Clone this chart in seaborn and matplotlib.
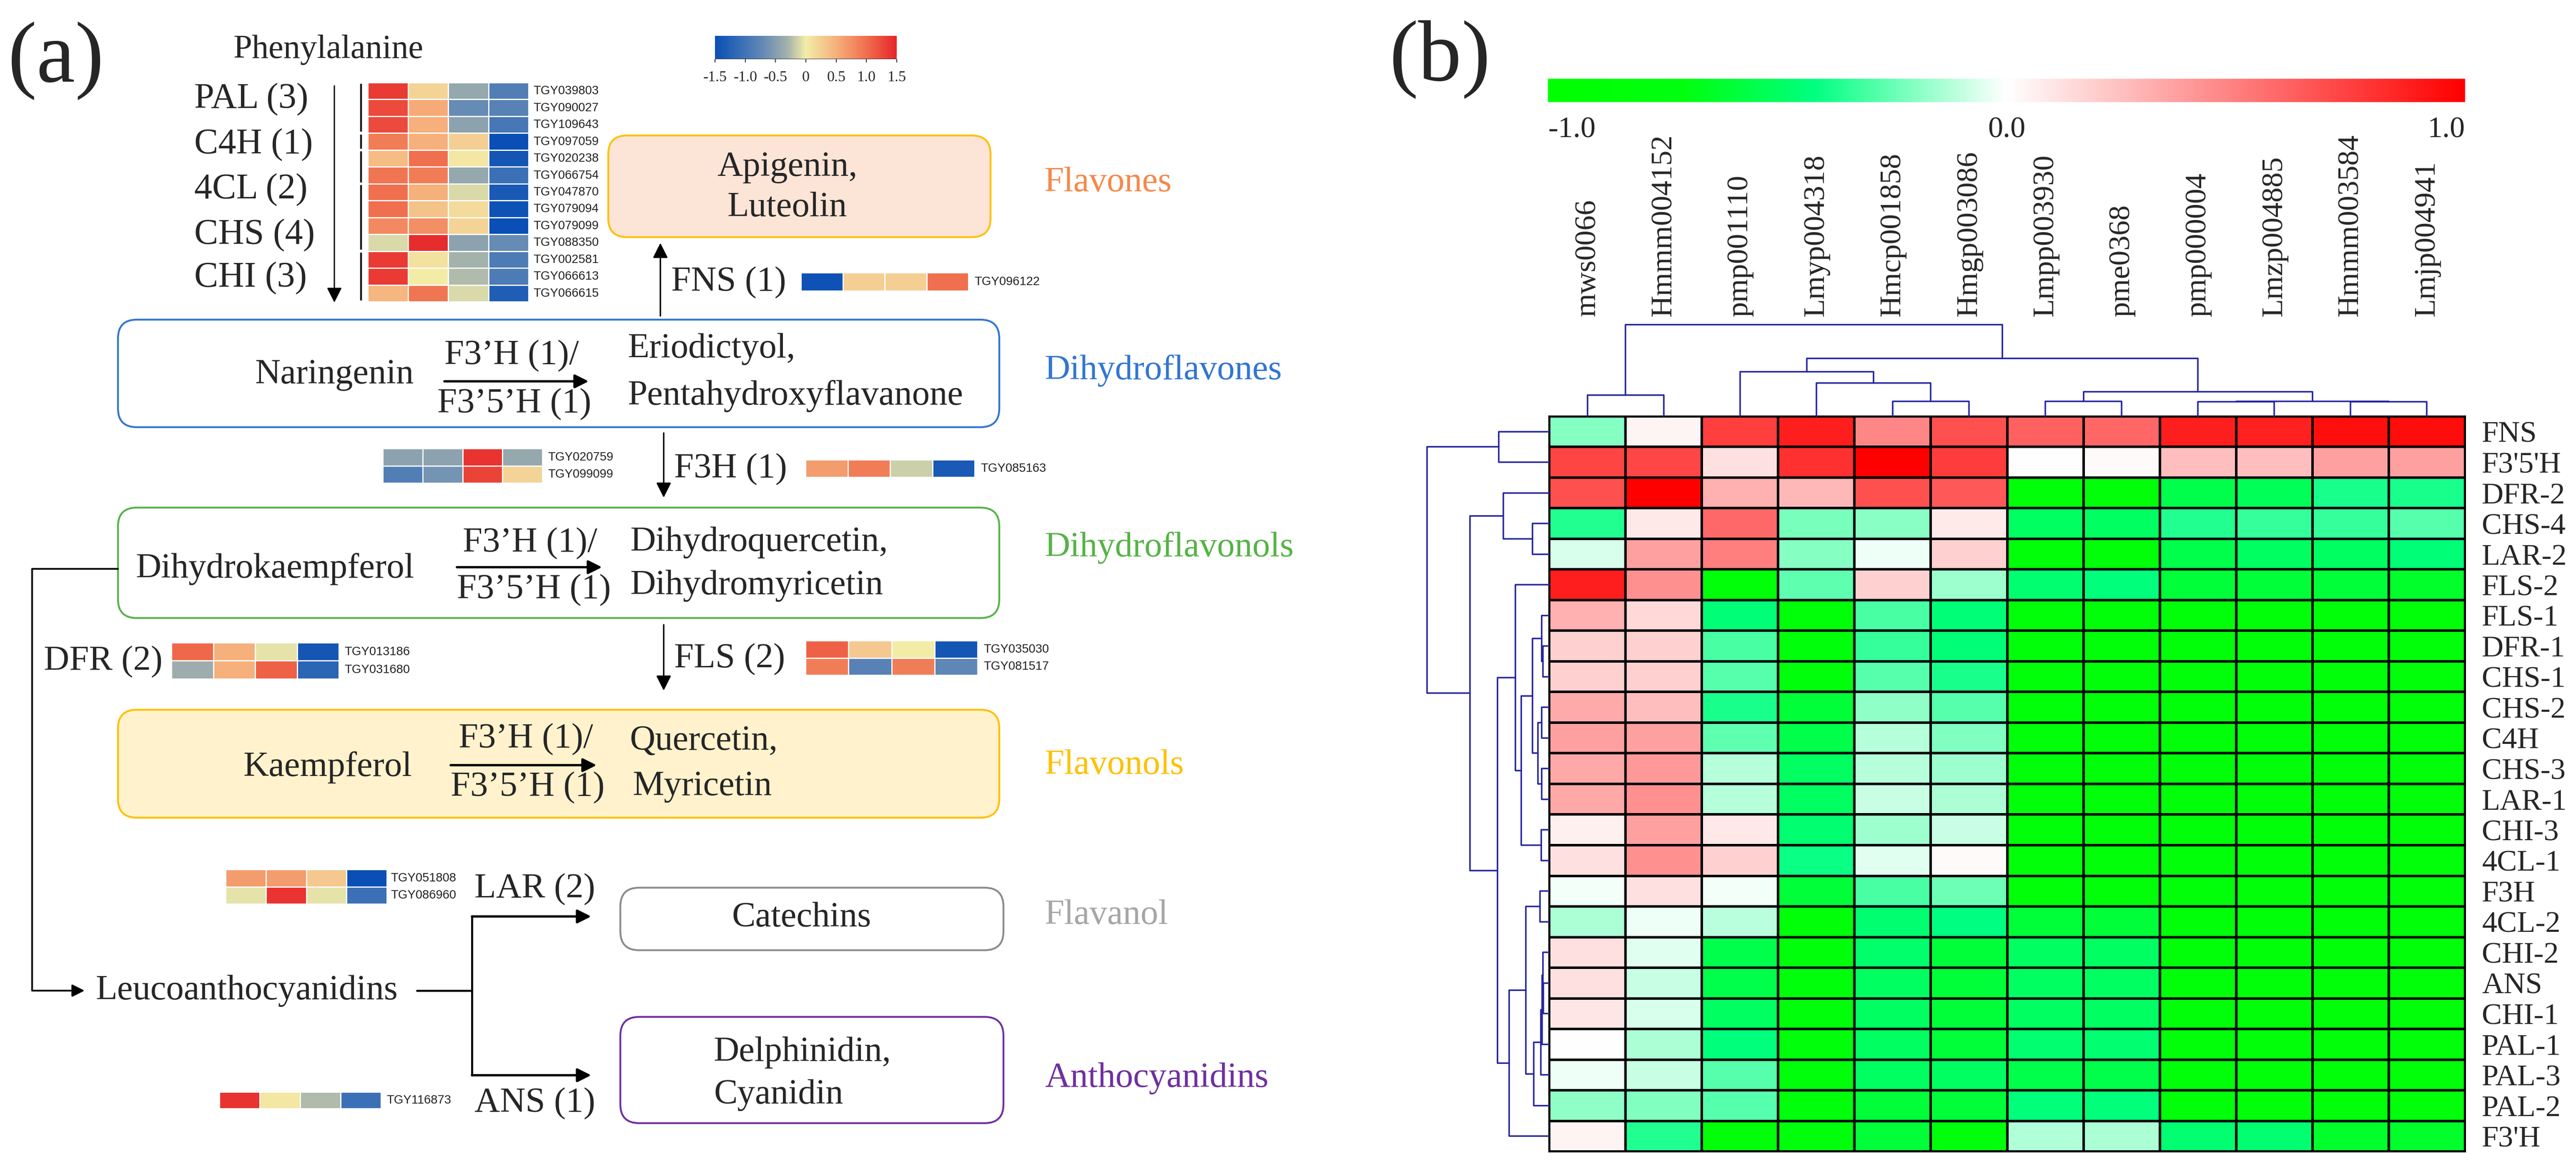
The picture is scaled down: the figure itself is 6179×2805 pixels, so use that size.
import numpy as np
import pandas as pd
import matplotlib
matplotlib.use("Agg")
import matplotlib.pyplot as plt
import matplotlib.colorbar as mcolorbar
from matplotlib.colors import LinearSegmentedColormap, Normalize
from matplotlib.patches import FancyBboxPatch
import seaborn as sns

W, H, DPI = 6179, 2805, 100

# ---------------- panel (a): gene expression (z-score, 4 samples) ----------------
early_groups = ["PAL (3)", "C4H (1)", "4CL (2)", "CHS (4)", "CHI (3)"]
early_counts = [3, 1, 2, 4, 3]
early_genes = ["TGY039803", "TGY090027", "TGY109643", "TGY097059", "TGY020238",
               "TGY066754", "TGY047870", "TGY079094", "TGY079099", "TGY088350",
               "TGY002581", "TGY066613", "TGY066615"]
early_expr = [
    [1.35, 0.20, -0.40, -0.85],
    [1.25, 0.55, -0.70, -0.80],
    [1.25, 0.50, -0.45, -0.95],
    [0.90, 0.50, 0.25, -1.50],
    [0.40, 1.00, 0.05, -1.40],
    [0.95, 0.90, -0.40, -1.05],
    [1.00, 0.50, -0.10, -1.35],
    [1.00, 0.35, 0.15, -1.45],
    [0.80, 0.75, 0.20, -1.50],
    [-0.10, 1.45, -0.45, -0.70],
    [1.35, 0.10, -0.30, -0.90],
    [1.35, 0.00, -0.25, -0.90],
    [0.45, 0.95, -0.10, -1.30],
]
fns_genes = ["TGY096122"]
fns_expr = [[-1.45, 0.25, 0.25, 1.00]]
f3h_genes = ["TGY085163"]
f3h_expr = [[0.65, 0.90, -0.15, -1.35]]
f3h_pair_genes = ["TGY020759", "TGY099099"]
f3h_pair_expr = [[-0.45, -0.45, 1.40, -0.40],
                 [-0.85, -0.60, 1.30, 0.20]]
dfr_genes = ["TGY013186", "TGY031680"]
dfr_expr = [[1.05, 0.50, -0.05, -1.40],
            [-0.35, 0.50, 1.10, -1.20]]
fls_genes = ["TGY035030", "TGY081517"]
fls_expr = [[1.10, 0.30, 0.00, -1.40],
            [0.90, -0.80, 0.90, -0.75]]
lar_genes = ["TGY051808", "TGY086960"]
lar_expr = [[0.65, 0.65, 0.30, -1.50],
            [-0.05, 1.40, -0.05, -1.05]]
ans_genes = ["TGY116873"]
ans_expr = [[1.40, 0.05, -0.25, -1.05]]
cbar_a_ticks = [-1.5, -1.0, -0.5, 0, 0.5, 1.0, 1.5]
cbar_a_labels = ["-1.5", "-1.0", "-0.5", "0", "0.5", "1.0", "1.5"]

# ---------------- panel (b): correlation heatmap ----------------
col_labels = ["mws0066", "Hmmm004152", "pmp001110", "Lmyp004318", "Hmcp001858",
              "Hmgp003086", "Lmpp003930", "pme0368", "pmp000004", "Lmzp004885",
              "Hmmm003584", "Lmjp004941"]
row_labels = ["FNS", "F3'5'H", "DFR-2", "CHS-4", "LAR-2", "FLS-2", "FLS-1", "DFR-1",
              "CHS-1", "CHS-2", "C4H", "CHS-3", "LAR-1", "CHI-3", "4CL-1", "F3H",
              "4CL-2", "CHI-2", "ANS", "CHI-1", "PAL-1", "PAL-3", "PAL-2", "F3'H"]
G = -0.85
corr_values = [
    [-0.20, 0.04, 0.75, 0.88, 0.47, 0.68, 0.62, 0.60, 0.88, 0.87, 0.94, 0.95],
    [0.73, 0.72, 0.12, 0.81, 1.00, 0.76, 0.00, 0.02, 0.25, 0.25, 0.37, 0.37],
    [0.68, 1.00, 0.31, 0.28, 0.68, 0.65, G, G, -0.55, -0.52, -0.38, -0.38],
    [-0.36, 0.09, 0.59, -0.22, -0.19, 0.08, -0.50, -0.50, -0.36, -0.33, -0.33, -0.28],
    [-0.07, 0.37, 0.50, -0.20, -0.03, 0.18, G, G, -0.55, -0.50, -0.50, -0.44],
    [0.88, 0.43, G, -0.26, 0.18, -0.16, -0.46, -0.43, -0.60, -0.60, -0.60, -0.63],
    [0.31, 0.15, -0.44, G, -0.30, -0.44, G, G, G, G, G, G],
    [0.18, 0.18, -0.30, -0.80, -0.33, -0.44, G, G, G, G, G, G],
    [0.18, 0.18, -0.28, -0.80, -0.28, -0.38, G, G, G, G, G, G],
    [0.33, 0.25, -0.38, -0.60, -0.18, -0.28, G, G, G, G, G, G],
    [0.37, 0.37, -0.26, -0.55, -0.12, -0.21, G, G, G, G, G, G],
    [0.34, 0.40, -0.12, -0.50, -0.12, -0.16, G, G, G, G, G, G],
    [0.34, 0.43, -0.12, -0.50, -0.09, -0.14, G, G, G, G, G, G],
    [0.06, 0.37, 0.09, -0.46, -0.16, -0.09, G, G, G, G, G, G],
    [0.12, 0.43, 0.18, -0.40, -0.05, 0.02, G, G, G, G, G, G],
    [-0.02, 0.12, -0.02, -0.60, -0.30, -0.24, G, G, G, G, G, G],
    [-0.14, -0.03, -0.11, G, -0.46, -0.42, -0.60, -0.60, G, G, G, G],
    [0.12, -0.05, -0.55, -0.80, -0.47, -0.60, -0.50, -0.50, G, G, G, G],
    [0.12, -0.09, -0.55, -0.80, -0.50, -0.60, -0.50, -0.50, G, G, G, G],
    [0.10, -0.07, -0.50, -0.80, -0.50, -0.60, -0.50, -0.50, G, G, G, G],
    [0.00, -0.14, -0.43, -0.80, -0.50, -0.60, -0.46, -0.46, G, G, G, G],
    [-0.03, -0.09, -0.28, -0.80, -0.50, -0.50, -0.55, -0.55, G, G, G, G],
    [-0.18, -0.21, -0.28, -0.80, -0.60, -0.60, -0.43, -0.43, G, G, G, G],
    [0.04, -0.36, G, -0.80, -0.60, -0.80, -0.13, -0.14, -0.46, -0.46, -0.63, -0.63],
]
# dendrogram merges: (node a, node b, height); nodes >= n are earlier merges
col_merges = [(0, 1, 51), (4, 5, 36), (3, 13, 80), (2, 14, 107), (6, 7, 36),
              (8, 9, 35), (10, 11, 35), (17, 18, 36), (16, 19, 59), (15, 20, 139),
              (12, 21, 220)]
row_merges = [(0, 1, 121), (3, 4, 40), (2, 25, 110), (7, 8, 15), (6, 27, 18),
              (9, 10, 18), (11, 12, 18), (29, 30, 27), (28, 31, 40), (13, 14, 19),
              (32, 33, 67), (5, 34, 81), (15, 16, 22), (18, 19, 14), (17, 37, 15),
              (38, 20, 17), (39, 21, 20), (40, 22, 37), (36, 41, 56), (42, 23, 96),
              (35, 43, 124), (26, 44, 190), (24, 45, 293)]

# ---------------- style ----------------
sns.set_style("white")
plt.rcParams["font.family"] = ["Liberation Serif", "DejaVu Serif"]
plt.rcParams["axes.unicode_minus"] = False

cmap_a = LinearSegmentedColormap.from_list("expr", [
    (0.0, "#0a4fb5"), (0.25, "#5e86b6"), (0.40, "#a4b2ac"), (0.5, "#f3eda8"),
    (0.667, "#f5b07c"), (0.833, "#f0704e"), (1.0, "#e6252a")])
cmap_b = LinearSegmentedColormap.from_list("corr", [
    (0.0, "#00ff00"), (0.15, "#00ff10"), (0.29, "#00ff80"), (0.5, "#ffffff"),
    (1.0, "#ff0000")])

fig = plt.figure(figsize=(W / DPI, H / DPI), dpi=DPI)


def px_axes(x0, y0, x1, y1):
    return fig.add_axes([x0 / W, 1 - y1 / H, (x1 - x0) / W, (y1 - y0) / H])


base = fig.add_axes([0, 0, 1, 1])
base.set_xlim(0, W)
base.set_ylim(H, 0)
base.axis("off")


def txt(x, y, s, size=61, ha="left", **kw):
    base.text(x, y, s, fontsize=size, ha=ha, va="center", **kw)


def box(x0, y0, x1, y1, ec, fc="white"):
    base.add_patch(FancyBboxPatch((x0, y0), x1 - x0, y1 - y0,
                                  boxstyle="round,pad=0,rounding_size=45",
                                  ec=ec, fc=fc, lw=3.2))


def arrow(x0, y0, x1, y1, lw=2.5, ms=55):
    base.annotate("", xy=(x1, y1), xytext=(x0, y0),
                  arrowprops=dict(arrowstyle="-|>", color="black", lw=lw,
                                  mutation_scale=ms, shrinkA=0, shrinkB=0))


def small_heatmap(x0, y0, x1, y1, values, genes, gap=0.13):
    ax = px_axes(x0, y0, x1, y1)
    sns.heatmap(np.array(values), ax=ax, cmap=cmap_a, vmin=-1.5, vmax=1.5,
                cbar=False, linewidths=1.8, linecolor="white",
                xticklabels=False, yticklabels=False)
    for i, g in enumerate(genes):
        ax.text(len(values[0]) + gap, i + 0.5, g, fontsize=21, family="Liberation Sans",
                va="center", ha="left", color="#222222")
    return ax


# ---------------- panel (a) ----------------
txt(19, 146, "(a)", 150)
txt(3333, 143, "(b)", 150)
txt(560, 119, "Phenylalanine", 58)
for lab, y in zip(early_groups, [238, 347, 455, 564, 667]):
    txt(466, y, lab, 62)
arrow(802, 206, 802, 726, lw=2.2, ms=55)

ax_e = small_heatmap(882, 198, 1268, 724, early_expr, early_genes, gap=0.12)
start = 0
for n in early_counts:
    ax_e.plot([-0.17, -0.17], [start + 0.08, start + n - 0.08], color="black",
              lw=3, clip_on=False, solid_capstyle="butt")
    start += n

# colour scale of panel (a)
ax_ca = px_axes(1715, 86, 2151, 142)
cb_a = mcolorbar.ColorbarBase(ax_ca, cmap=cmap_a, norm=Normalize(-1.5, 1.5),
                              orientation="horizontal", ticks=cbar_a_ticks)
cb_a.set_ticklabels(cbar_a_labels)
cb_a.outline.set_visible(False)
ax_ca.axhline(0, color="#333333", lw=1.5)
ax_ca.tick_params(axis="x", length=6, width=1.5, labelsize=26, pad=14, color="#333333")

# flavones
box(1459, 325, 2376, 569, "#ffc000", "#fce4d6")
txt(1888, 401, "Apigenin,", ha="center")
txt(1888, 499, "Luteolin", ha="center")
txt(2505, 439, "Flavones", color="#f4894a")
arrow(1584, 758, 1584, 583)
txt(1610, 678, "FNS (1)")
small_heatmap(1921, 654, 2323, 698, fns_expr, fns_genes, gap=0.14)

# dihydroflavones
box(283, 767, 2397, 1025, "#3276d2")
txt(612, 899, "Naringenin")
txt(1066, 854, "F3\u2019H (1)/")
arrow(1066, 915, 1412, 915, lw=4, ms=50)
txt(1049, 969, "F3\u20195\u2019H (1)")
txt(1506, 838, "Eriodictyol,")
txt(1506, 950, "Pentahydroxyflavanone")
txt(2506, 889, "Dihydroflavones", color="#3276d2")

arrow(1592, 1039, 1592, 1194)
txt(1617, 1125, "F3H (1)")
small_heatmap(1932, 1103, 2338, 1145, f3h_expr, f3h_genes, gap=0.14)
small_heatmap(918, 1076, 1301, 1159, f3h_pair_expr, f3h_pair_genes, gap=0.14)

# dihydroflavonols
box(283, 1218, 2397, 1483, "#56b347")
txt(325, 1365, "Dihydrokaempferol")
txt(1110, 1304, "F3\u2019H (1)/")
arrow(1096, 1361, 1444, 1361, lw=4, ms=50)
txt(1096, 1416, "F3\u20195\u2019H (1)")
txt(1511, 1301, "Dihydroquercetin,")
txt(1511, 1406, "Dihydromyricetin")
txt(2506, 1314, "Dihydroflavonols", color="#56b347")

txt(105, 1588, "DFR (2)")
small_heatmap(411, 1542, 813, 1629, dfr_expr, dfr_genes, gap=0.13)
arrow(1592, 1499, 1592, 1657)
txt(1617, 1582, "FLS (2)")
small_heatmap(1932, 1537, 2345, 1620, fls_expr, fls_genes, gap=0.14)

# flavonols
box(283, 1703, 2397, 1962, "#ffc000", "#fff2cc")
txt(583, 1841, "Kaempferol")
txt(1100, 1774, "F3\u2019H (1)/")
arrow(1081, 1836, 1431, 1836, lw=4, ms=50)
txt(1081, 1890, "F3\u20195\u2019H (1)")
txt(1511, 1778, "Quercetin,")
txt(1517, 1887, "Myricetin")
txt(2506, 1837, "Flavonols", color="#ffc000")

# leucoanthocyanidins branch
base.plot([283, 77, 77], [1365, 1365, 2377], color="black", lw=3)
arrow(77, 2377, 203, 2377, lw=3, ms=45)
txt(230, 2377, "Leucoanthocyanidins")
base.plot([1000, 1132], [2377, 2377], color="black", lw=3.5)
base.plot([1132, 1132], [2199, 2580], color="black", lw=3.5)
arrow(1132, 2199, 1418, 2199, lw=4, ms=50)
arrow(1132, 2580, 1418, 2580, lw=4, ms=50)

small_heatmap(541, 2086, 928, 2169, lar_expr, lar_genes, gap=0.10)
txt(1138, 2134, "LAR (2)")
box(1488, 2130, 2407, 2280, "#8c8c8c")
txt(1923, 2202, "Catechins", ha="center")
txt(2506, 2197, "Flavanol", color="#a6a6a6")

small_heatmap(526, 2620, 914, 2660, ans_expr, ans_genes, gap=0.14)
txt(1138, 2648, "ANS (1)")
box(1488, 2440, 2407, 2695, "#7030a0")
txt(1712, 2525, "Delphinidin,")
txt(1712, 2627, "Cyanidin")
txt(2506, 2588, "Anthocyanidins", color="#7030a0")

# ---------------- panel (b) ----------------
ax_cb = px_axes(3713, 189, 5913, 245)
cb_b = mcolorbar.ColorbarBase(ax_cb, cmap=cmap_b, norm=Normalize(-1, 1),
                              orientation="horizontal", ticks=[])
cb_b.outline.set_visible(False)
ax_cb.text(0, -1.2, "-1.0", transform=ax_cb.transAxes, ha="left", va="center", fontsize=52)
ax_cb.text(0.5, -1.2, "0.0", transform=ax_cb.transAxes, ha="center", va="center", fontsize=52)
ax_cb.text(1, -1.2, "1.0", transform=ax_cb.transAxes, ha="right", va="center", fontsize=52)

df_corr = pd.DataFrame(corr_values, index=row_labels, columns=col_labels)
ax_hm = px_axes(3716, 999, 5913, 2763)
sns.heatmap(df_corr, ax=ax_hm, cmap=cmap_b, vmin=-1, vmax=1, cbar=False,
            linewidths=4, linecolor="black", xticklabels=True, yticklabels=True)
ax_hm.xaxis.tick_top()
ax_hm.yaxis.tick_right()
ax_hm.tick_params(axis="x", length=0, pad=173, labelsize=52, labelrotation=90)
ax_hm.tick_params(axis="y", length=0, pad=29, labelsize=52, labelrotation=0)
for sp in ax_hm.spines.values():
    sp.set_visible(True)
    sp.set_linewidth(3)
    sp.set_color("black")


def draw_dendro(ax, merges, n, orient):
    pos = {i: i + 0.5 for i in range(n)}
    hgt = {i: 0.0 for i in range(n)}
    for k, (a, b, h) in enumerate(merges):
        xs = [pos[a], pos[a], pos[b], pos[b]]
        ys = [hgt[a], h, h, hgt[b]]
        if orient == "top":
            ax.plot(xs, ys, color="#2323a0", lw=2.6, clip_on=False)
        else:
            ax.plot(ys, xs, color="#2323a0", lw=2.6, clip_on=False)
        pos[n + k] = (pos[a] + pos[b]) / 2
        hgt[n + k] = h


ax_dc = px_axes(3716, 779, 5913, 999)
draw_dendro(ax_dc, col_merges, len(col_labels), "top")
ax_dc.set_xlim(0, len(col_labels))
ax_dc.set_ylim(0, 220)
ax_dc.axis("off")

ax_dr = px_axes(3423, 999, 3716, 2763)
draw_dendro(ax_dr, row_merges, len(row_labels), "left")
ax_dr.set_xlim(293, 0)
ax_dr.set_ylim(len(row_labels), 0)
ax_dr.axis("off")

fig.savefig("out.png", dpi=DPI)
